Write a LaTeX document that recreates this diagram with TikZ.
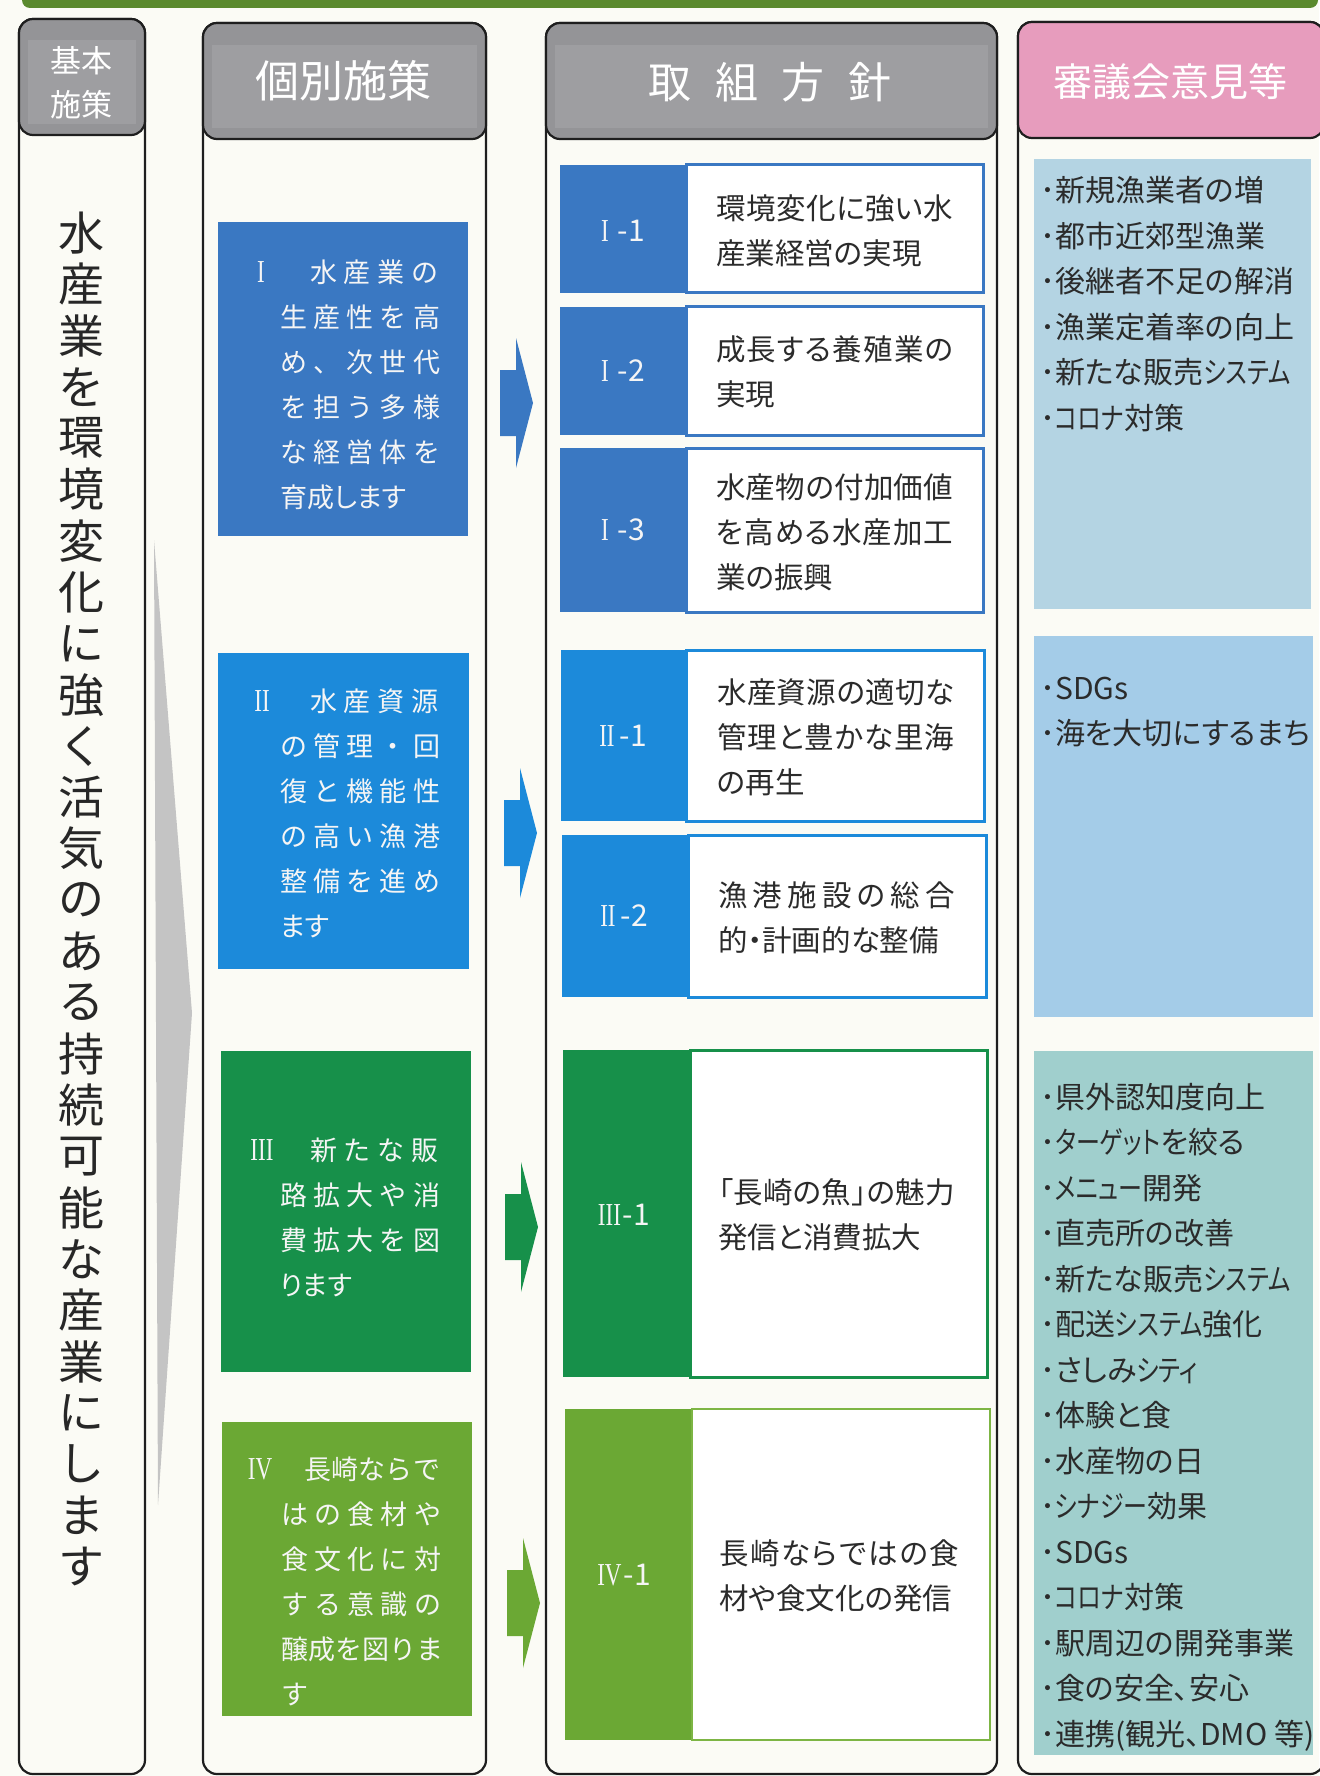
\documentclass[tikz,border=0pt]{standalone}
\usepackage{graphicx}
\usepackage{fontspec}
\newfontfamily\jp{Noto Sans CJK JP}
\newfontfamily\jpp[RawFeature=+palt]{Noto Sans CJK JP}
\newfontfamily\rmn{Liberation Serif}
\definecolor{paper}{HTML}{FBFBF5}
\definecolor{topgreen}{HTML}{5B8A2E}
\definecolor{hdgray}{HTML}{949497}
\definecolor{hdgrayin}{HTML}{9E9EA1}
\definecolor{hdpink}{HTML}{E79CBD}
\definecolor{blueA}{HTML}{3A78C2}
\definecolor{blueB}{HTML}{1C8ADA}
\definecolor{greenC}{HTML}{17904A}
\definecolor{greenD}{HTML}{6BA834}
\definecolor{greenDb}{HTML}{7DB544}
\definecolor{wedgegray}{HTML}{C4C4C4}
\definecolor{opA}{HTML}{B4D4E3}
\definecolor{opB}{HTML}{A4CCE8}
\definecolor{opC}{HTML}{A0CFCD}
\definecolor{ink}{HTML}{2B2B2B}
\definecolor{frameink}{HTML}{1E1E1E}
% justify a string of characters to a given width
\def\jsp#1#2{\makebox[#1][s]{\jspA#2\relax}}
\def\jspA#1{#1\jspB}
\def\jspB#1{\ifx\relax#1\else\hfil#1\expandafter\jspB\fi}
% narrower katakana runs
\newcommand\kk[1]{\scalebox{0.8}[1]{#1}}
% serif roman numerals
\newcommand\rmnum[1]{\scalebox{0.72}[1]{\rmn\fontsize{32}{32}\selectfont #1}}
\newcommand\blkarrow[3]{%
  \fill[#3] (#1,#2-33) -- (#1+16,#2-33) -- (#1+16,#2-65) -- (#1+33,#2)
    -- (#1+16,#2+65) -- (#1+16,#2+33) -- (#1,#2+33) -- cycle;}
\tikzset{
  colframe/.style={draw=frameink, line width=2.2pt, rounded corners=14pt},
  hdr/.style={draw=frameink, line width=2.2pt, rounded corners=14pt, fill=hdgray},
  hdtxt/.style={text=white, inner sep=0pt},
  ctwo/.style={text=white!96!black, inner sep=0pt, anchor=west, align=left,
    font=\jp\fontsize{27}{45}\selectfont},
  cnum/.style={text=white!96!black, inner sep=0pt, font=\jp\fontsize{27}{45}\selectfont},
  lbl/.style={text=white!96!black, inner sep=0pt, font=\jp\fontsize{30}{45}\selectfont},
  cthree/.style={text=ink, inner sep=0pt, anchor=west, align=left,
    font=\jpp\fontsize{29.5}{45}\selectfont},
  cfour/.style={text=ink, inner sep=0pt, anchor=west, align=left,
    font=\jpp\fontsize{30}{45.5}\selectfont},
  vtxt/.style={text=ink!90!black, inner sep=0pt, font=\jp\fontsize{46}{46}\selectfont},
  wbox/.style={fill=white, line width=3pt},
}
\begin{document}
\begin{tikzpicture}[x=1pt,y=-1pt]
\useasboundingbox (0,0) rectangle (1319,1776);
\fill[paper] (0,0) rectangle (1319,1776);
% top green band
\fill[topgreen, rounded corners=8pt] (22,-20) rectangle (1318,8);

% column frames
\draw[colframe] (19,19) rectangle (145,1774);
\draw[colframe] (203,23) rectangle (486,1774);
\draw[colframe] (546,23) rectangle (997,1774);
\draw[colframe] (1018,22) rectangle (1324,1774);

% headers
\draw[hdr] (19,19) rectangle (145,135);
\fill[hdgrayin] (28,40) rectangle (136,124);
\draw[hdr] (203,23) rectangle (486,139);
\fill[hdgrayin] (212,45) rectangle (477,128);
\draw[hdr] (546,23) rectangle (997,139);
\fill[hdgrayin] (555,45) rectangle (988,128);
\draw[hdr, fill=hdpink] (1018,22) rectangle (1324,138);

\node[hdtxt, align=center, font=\jp\fontsize{31}{44}\selectfont] (h1) at (81,83) {基本\\施策};
\node[hdtxt, font=\jp\fontsize{44}{44}\selectfont] (h2) at (343,81) {個別施策};
\node[hdtxt, font=\jp\fontsize{43}{43}\selectfont] (h3) at (770,82) {取\hspace{24pt}組\hspace{24pt}方\hspace{24pt}針};
\node[hdtxt, font=\jp\fontsize{39}{39}\selectfont] (h4) at (1170,82) {審議会意見等};

% column 1 vertical text
\foreach \ch [count=\i from 0] in {水,産,業,を,環,境,変,化,に,強,く,活,気,の,あ,る,持,続,可,能,な,産,業,に,し,ま,す}
  \node[vtxt] (v\i) at (81,233+51.3*\i) {\ch};

% gray wedge
\fill[wedgegray] (154,540) -- (192,1013) -- (158,1505) -- cycle;

% column 2 boxes
\fill[blueA] (218,222) rectangle (468,536);
\fill[blueB] (218,653) rectangle (469,969);
\fill[greenC] (221,1051) rectangle (471,1372);
\fill[greenD] (222,1422) rectangle (472,1716);

\node[cnum] (n1) at (261,272) {\rmnum{I}};
\node[ctwo] (t1) at (280,384.5) {\hspace{30pt}\jsp{128pt}{水産業の}\\\jsp{160pt}{生産性を高}\\\jsp{160pt}{め、次世代}\\\jsp{160pt}{を担う多様}\\\jsp{160pt}{な経営体を}\\{\jpp 育成します}};
\node[cnum] (n2) at (262,701) {\rmnum{II}};
\node[ctwo] (t2) at (280,813.5) {\hspace{30pt}\jsp{128pt}{水産資源}\\\jsp{160pt}{の管理・回}\\\jsp{160pt}{復と機能性}\\\jsp{160pt}{の高い漁港}\\\jsp{160pt}{整備を進め}\\{\jpp ます}};
\node[cnum] (n3) at (262,1150) {\rmnum{III}};
\node[cnum] (n4) at (260,1469) {\rmnum{IV}};
\node[ctwo] (t3) at (280,1217.5) {\hspace{30pt}\jsp{128pt}{新たな販}\\\jsp{160pt}{路拡大や消}\\\jsp{160pt}{費拡大を図}\\{\jpp ります}};
\node[ctwo] (t4) at (281,1581.5) {\hspace{23pt}\jsp{136pt}{長崎ならで}\\\jsp{160pt}{はの食材や}\\\jsp{160pt}{食文化に対}\\\jsp{160pt}{する意識の}\\醸成を図りま\\す};

% arrows
\blkarrow{500}{403}{blueA}
\blkarrow{504}{833}{blueB}
\blkarrow{505}{1227}{greenC}
\blkarrow{507}{1603}{greenD}

% column 3 items
\fill[blueA] (560,165) rectangle (686,293);
\draw[wbox, draw=blueA] (686,165) rectangle (983,293);
\fill[blueA] (560,307) rectangle (686,435);
\draw[wbox, draw=blueA] (686,307) rectangle (983,435);
\fill[blueA] (560,448) rectangle (686,612);
\draw[wbox, draw=blueA] (686,448) rectangle (983,612);
\fill[blueB] (561,650) rectangle (686,821);
\draw[wbox, draw=blueB] (686,650) rectangle (984,821);
\fill[blueB] (562,835) rectangle (688,997);
\draw[wbox, draw=blueB] (688,835) rectangle (986,997);
\fill[greenC] (563,1050) rectangle (690,1377);
\draw[wbox, draw=greenC] (690,1050) rectangle (987,1377);
\fill[greenD] (565,1409) rectangle (692,1740);
\draw[wbox, draw=greenDb, line width=2pt] (692,1409) rectangle (990,1740);

\node[lbl] (l11) at (623,231) {\rmnum{I}\hspace{9pt}-1};
\node[lbl] (l12) at (623,371) {\rmnum{I}\hspace{9pt}-2};
\node[lbl] (l13) at (623,530) {\rmnum{I}\hspace{9pt}-3};
\node[lbl] (l21) at (623,736) {\rmnum{II}\hspace{5pt}-1};
\node[lbl] (l22) at (624,916) {\rmnum{II}\hspace{5pt}-2};
\node[lbl] (l31) at (624,1215) {\rmnum{III}\hspace{2pt}-1};
\node[lbl] (l41) at (624,1575) {\rmnum{IV}\hspace{2pt}-1};

\node[cthree] (p11) at (716,231) {\jsp{237pt}{環境変化に強い水}\\産業経営の実現};
\node[cthree] (p12) at (716,372) {\jsp{237pt}{成長する養殖業の}\\実現};
\node[cthree] (p13) at (716,532) {\jsp{237pt}{水産物の付加価値}\\\jsp{237pt}{を高める水産加工}\\業の振興};
\node[cthree] (p21) at (717,737) {\jsp{237pt}{水産資源の適切な}\\\jsp{237pt}{管理と豊かな里海}\\の再生};
\node[cthree] (p22) at (718,918) {\jsp{237pt}{漁港施設の総合}\\的・計画的な整備};
\node[cthree] (p31) at (718,1215) {\jsp{237pt}{「長崎の魚」の魅力}\\発信と消費拡大};
\node[cthree] (p41) at (719,1576) {\jsp{240pt}{長崎ならではの食}\\材や食文化の発信};

% column 4 opinion boxes
\fill[opA] (1034,159) rectangle (1311,609);
\fill[opB] (1034,636) rectangle (1313,1017);
\fill[opC] (1034,1051) rectangle (1313,1755);

\node[cfour] (o1) at (1040,304) {･新規漁業者の増\\･都市近郊型漁業\\･後継者不足の解消\\･漁業定着率の向上\\･新たな販売\kk{システム}\\･\kk{コロナ}対策};
\node[cfour] (o2) at (1040,712) {･SDGs\\･海を大切にするまち};
\node[cfour] (o3) at (1040,1417) {･県外認知度向上\\･\kk{ターゲット}を絞る\\･\kk{メニュー}開発\\･直売所の改善\\･新たな販売\kk{システム}\\･配送\kk{システム}強化\\･さしみ\kk{シティ}\\･体験と食\\･水産物の日\\･\kk{シナジー}効果\\･SDGs\\･\kk{コロナ}対策\\･駅周辺の開発事業\\･食の安全、安心\\･連携(観光、DMO 等)};
\end{tikzpicture}
\end{document}
